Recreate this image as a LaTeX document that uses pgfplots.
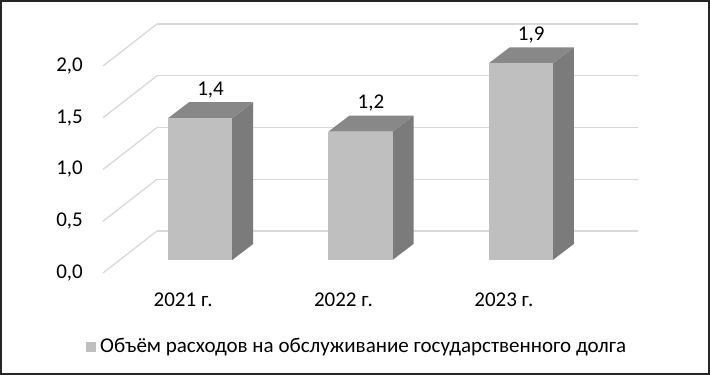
\documentclass[border=0pt]{standalone}
\usepackage{pgfplots}
\pgfplotsset{compat=1.18}
\usepackage{pgfplotstable}
\usepackage{fontspec}
\setmainfont{Carlito}
\definecolor{barfront}{HTML}{BFBFBF}
\definecolor{barside}{HTML}{7B7B7B}
\definecolor{bartop}{HTML}{888888}
\definecolor{gridc}{HTML}{D9D9D9}
\definecolor{framec}{HTML}{262626}

\pgfplotstableread{
x v
0 1.37
1 1.24
2 1.90
}\bardata

\begin{document}
\fontsize{21}{25}\selectfont
\begin{tikzpicture}[font=\fontsize{21}{25}\selectfont]
\begin{axis}[
  at={(0pt,0pt)}, anchor=south west,
  x=160.33pt, y=103.5pt,
  xmin=0, xmax=3.34, ymin=0, ymax=2.45,
  clip=false,
  axis line style={draw=none},
  tick style={draw=none},
  xtick={0.5,1.5,2.5},
  xticklabels={2021 г.,2022 г.,2023 г.},
  ytick={0,0.5,1,1.5,2},
  yticklabel style={inner sep=3pt, xshift=-17pt},
  xticklabel style={inner sep=3pt, yshift=-17pt},
  /pgf/number format/use comma,
  /pgf/number format/fixed,
  /pgf/number format/fixed zerofill,
  /pgf/number format/precision=1,
  /pgf/number format/assume math mode=true,
  legend style={at={(0.4743,-0.2918)}, anchor=center, draw=none, fill=none,
    font=\fontsize{21}{25}\selectfont},
]
% back wall gridlines
\pgfplotsinvokeforeach{0,0.5,1,1.5,2}{
  \pgfmathsetmacro\yb{#1+0.406}
  \edef\doplot{\noexpand\addplot[gridc, line width=1.3pt, forget plot] coordinates {(0.337,\yb) (3.337,\yb)};
  \noexpand\addplot[gridc, line width=1.3pt, forget plot] coordinates {(0,#1) (0.337,\yb)};}
  \doplot
}
% bars (front, side, top faces)
\pgfplotsinvokeforeach{0,1,2}{
  \pgfplotstablegetelem{#1}{v}\of\bardata
  \pgfmathsetmacro\xl{#1+0.406}
  \pgfmathsetmacro\xr{#1+0.806}
  \pgfmathsetmacro\xb{#1+0.937}
  \pgfmathsetmacro\xlb{#1+0.537}
  \pgfmathsetmacro\yt{\pgfplotsretval+0.126}
  \pgfmathsetmacro\ytb{\pgfplotsretval+0.281}
  \edef\doplot{\noexpand\addplot[draw=none, fill=barside, forget plot] coordinates {(\xr,0.126) (\xb,0.281) (\xb,\ytb) (\xr,\yt)} -- cycle;
  \noexpand\addplot[draw=none, fill=bartop, forget plot] coordinates {(\xl,\yt) (\xr,\yt) (\xb,\ytb) (\xlb,\ytb)} -- cycle;
  \noexpand\addplot[draw=none, fill=barfront, forget plot] coordinates {(\xl,0.126) (\xr,0.126) (\xr,\yt) (\xl,\yt)} -- cycle;}
  \doplot
}
% value labels
\addplot[draw=none, mark=none, forget plot,
  nodes near coords, point meta=explicit,
  every node near coord/.append style={anchor=base, yshift=7pt, text=black}]
  table[x expr=\thisrow{x}+0.671, y expr=\thisrow{v}+0.281, meta=v] {\bardata};
\addlegendimage{legend image code/.code={\fill[barfront] (0pt,-4.5pt) rectangle (9.5pt,5pt); \path (12pt,0pt);}}
\addlegendentry{Объём расходов на обслуживание государственного долга}
\end{axis}
\draw[line width=2pt, framec] (-102pt,-101pt) rectangle (606pt,272pt);
\pgfresetboundingbox
\useasboundingbox (-103pt,-102pt) rectangle (607pt,273pt);
\end{tikzpicture}
\end{document}
